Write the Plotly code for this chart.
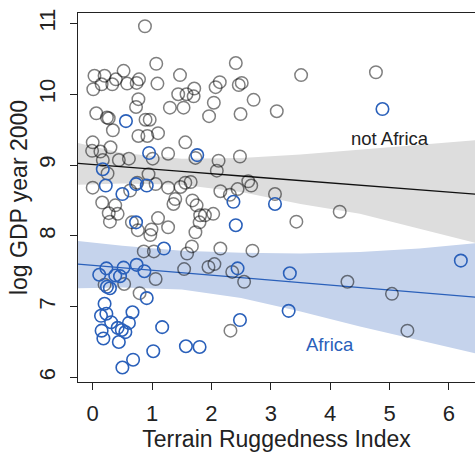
import plotly.graph_objects as go

# ---- data ----
# not Africa (grey open circles)
na_rugged = [0.88, 1.07, 2.41, 0.52, 0.03, 0.20, 1.47, 3.51, 4.77, 0.39, 0.33, 0.15, 0.58, 0.74, 0.78,
             1.09, 0.01, 2.14, 2.07, 2.46, 2.51, 1.44, 1.58, 1.71, 1.70, 2.71, 2.04, 0.77, 0.73, 1.30,
             1.53, 1.96, 2.49, 3.10, 0.06, 0.24, 0.27, 0.89, 0.96, 0.34, 0.77, 0.92, 1.10, 1.56, 0.00,
             -0.01, 0.13, 0.30, 0.44, 0.61, 0.17, 1.01, 0.94, 1.27, 1.73, 2.12, 2.48, 2.09, 2.62, 2.67,
             2.44, 2.15, 2.31, 3.07, 0.25, 0.00, 0.63, 0.75, 1.06, 1.27, 1.48, 1.56, 1.65, 1.39, 1.36,
             1.68, 1.75, 1.81, 1.89, 2.03, 1.80, 1.73, 1.67, 1.59, 2.15, 2.69, 1.54, 1.95, 2.05, 2.35,
             2.55, 2.32, 3.43, 4.16, 4.29, 5.04, 5.30, 0.16, 0.27, 0.38, 0.42, 0.29, 1.10, 1.27, 0.66,
             0.76, 0.99, 0.97, 0.86, 1.03, 0.53, 1.06, 0.20, 0.79]
na_gdp = [10.96, 10.43, 10.44, 10.33, 10.26, 10.26, 10.27, 10.27, 10.31, 10.21, 10.14, 10.14, 10.15, 10.16, 10.21,
          10.15, 10.07, 10.17, 10.10, 10.13, 10.16, 10.00, 10.00, 10.08, 9.97, 9.92, 9.88, 9.93, 9.82, 9.81,
          9.81, 9.69, 9.72, 9.76, 9.73, 9.67, 9.66, 9.64, 9.64, 9.49, 9.41, 9.41, 9.45, 9.32, 9.32,
          9.20, 9.19, 9.25, 9.07, 9.09, 9.07, 9.09, 8.87, 9.16, 9.10, 9.06, 9.12, 8.92, 8.77, 8.71,
          8.66, 8.63, 8.58, 8.59, 8.88, 8.68, 8.64, 8.75, 8.73, 8.68, 8.69, 8.75, 8.76, 8.52, 8.45,
          8.50, 8.43, 8.29, 8.29, 8.31, 8.19, 8.05, 7.85, 7.75, 7.82, 7.79, 7.53, 7.56, 7.60, 7.49,
          7.35, 6.66, 8.20, 8.34, 7.35, 7.18, 6.66, 8.47, 8.32, 8.43, 8.31, 8.20, 8.25, 8.12, 8.19,
          8.08, 8.09, 8.01, 7.78, 7.78, 7.32, 7.39, 7.31, 7.19]

# Africa (blue open circles)
af_rugged = [0.56, 4.88, 0.95, 1.76, 0.17, 0.22, 0.50, 0.73, 0.91, 2.37, 3.07, 2.41, 0.73, 1.20, 2.44,
             3.32, 3.30, 2.48, 6.20, 1.80, 1.57, 0.23, 0.11, 0.38, 0.46, 0.52, 0.74, 0.87, 0.24, 0.29,
             0.91, 0.20, 0.14, 0.23, 0.67, 0.31, 0.61, 0.42, 0.49, 0.55, 0.15, 0.18, 0.44, 1.17, 1.02,
             0.68, 0.50]
af_gdp = [9.62, 9.79, 9.17, 9.14, 8.94, 8.71, 8.59, 8.73, 8.71, 8.48, 8.45, 8.15, 8.19, 7.82, 7.54,
          7.47, 6.94, 6.81, 7.65, 6.43, 6.44, 7.54, 7.45, 7.44, 7.43, 7.55, 7.59, 7.50, 7.28, 7.26,
          7.12, 7.04, 6.87, 6.90, 6.92, 6.78, 6.77, 6.70, 6.67, 6.64, 6.66, 6.55, 6.50, 6.71, 6.37,
          6.25, 6.14]

# fitted mean lines and intervals
fit_x = [-0.3, 0.5, 1.5, 2.5, 3.5, 4.5, 5.5, 6.5]
na_mu = [9.025, 8.97, 8.91, 8.845, 8.78, 8.715, 8.65, 8.585]
na_hi = [9.32, 9.17, 9.09, 9.10, 9.15, 9.215, 9.285, 9.355]
na_lo = [8.72, 8.74, 8.72, 8.62, 8.45, 8.31, 8.10, 7.89]
af_mu = [7.603, 7.55, 7.48, 7.41, 7.34, 7.27, 7.20, 7.13]
af_hi = [7.93, 7.86, 7.79, 7.76, 7.75, 7.77, 7.82, 7.90]
af_lo = [7.26, 7.27, 7.24, 7.12, 6.93, 6.72, 6.52, 6.33]

x_ticks = [0, 1, 2, 3, 4, 5, 6]
y_ticks = [6, 7, 8, 9, 10, 11]

BLUE = "rgb(42,96,186)"
GREY_PT = "rgba(0,0,0,0.5)"
FONT = "Liberation Sans, Arial, sans-serif"

fig = go.Figure()

# bands
fig.add_trace(go.Scatter(x=fit_x + fit_x[::-1], y=na_hi + na_lo[::-1], fill="toself",
                         fillcolor="rgb(221,221,221)", line=dict(width=0), mode="lines",
                         hoverinfo="skip", showlegend=False))
fig.add_trace(go.Scatter(x=fit_x + fit_x[::-1], y=af_hi + af_lo[::-1], fill="toself",
                         fillcolor="rgb(197,211,236)", line=dict(width=0), mode="lines",
                         hoverinfo="skip", showlegend=False))
# mean lines
fig.add_trace(go.Scatter(x=fit_x, y=na_mu, mode="lines", line=dict(color="#111111", width=1.3),
                         showlegend=False))
fig.add_trace(go.Scatter(x=fit_x, y=af_mu, mode="lines", line=dict(color=BLUE, width=1.3),
                         showlegend=False))
# points
fig.add_trace(go.Scatter(x=na_rugged, y=na_gdp, mode="markers",
                         marker=dict(symbol="circle-open", size=12.5, color=GREY_PT, line=dict(width=1.5)),
                         showlegend=False))
fig.add_trace(go.Scatter(x=af_rugged, y=af_gdp, mode="markers",
                         marker=dict(symbol="circle-open", size=12.5, color=BLUE, line=dict(width=1.6)),
                         showlegend=False))

fig.add_annotation(x=5.0, y=9.37, text="not Africa", showarrow=False,
                   font=dict(family=FONT, size=18.5, color="#222222"))
fig.add_annotation(x=4.0, y=6.47, text="Africa", showarrow=False,
                   font=dict(family=FONT, size=18.5, color=BLUE))

fig.update_layout(
    width=475, height=452,
    margin=dict(l=78, r=0, t=13, b=70, autoexpand=False),
    paper_bgcolor="white", plot_bgcolor="white",
    font=dict(family=FONT, size=22, color="#222222"),
    showlegend=False,
)
fig.update_xaxes(
    range=[-0.2476, 6.4385], tickvals=x_ticks, ticktext=[str(v) for v in x_ticks],
    showgrid=False, zeroline=False, showline=True, linecolor="#222222", linewidth=1.3,
    mirror=True, ticks="outside", ticklen=7, tickwidth=1.3, tickcolor="#222222",
    tickfont=dict(size=22), ticklabelstandoff=4, automargin=False,
    title=dict(text="Terrain Ruggedness Index", font=dict(size=23), standoff=4),
)
fig.update_yaxes(
    range=[5.935, 11.147], tickvals=y_ticks, ticktext=[str(v) for v in y_ticks],
    showgrid=False, zeroline=False, showline=True, linecolor="#222222", linewidth=1.3,
    mirror=False, ticks="outside", ticklen=7, tickwidth=1.3, tickcolor="#222222",
    tickfont=dict(size=22), tickangle=-90, ticklabelstandoff=6, automargin=False,
    title=dict(text="log GDP year 2000", font=dict(size=23), standoff=0),
)

fig.write_html("out.html", config={"displayModeBar": False},
               post_script="document.body.style.margin='0';document.body.style.padding='0';")
